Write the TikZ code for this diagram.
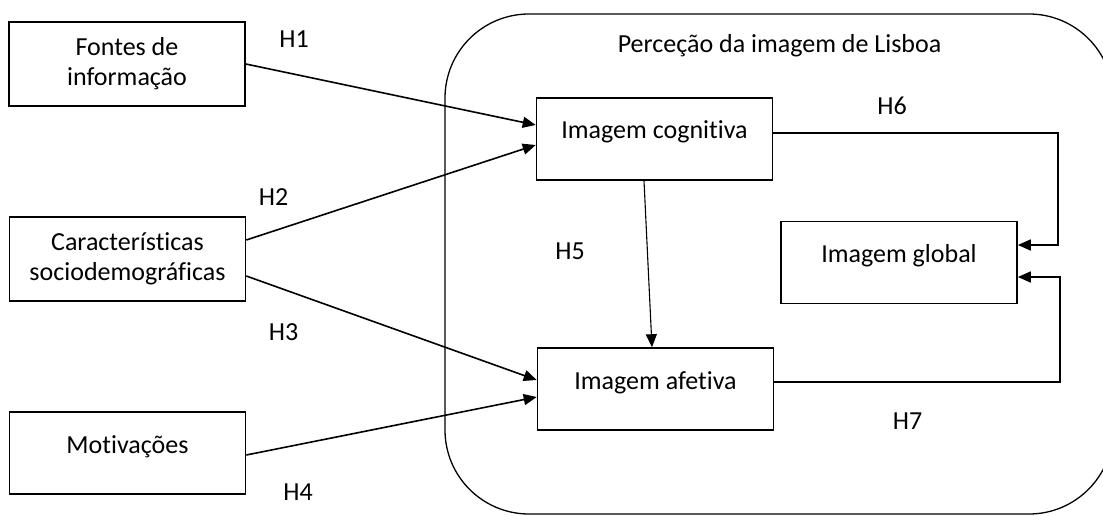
\documentclass[tikz,border=0pt]{standalone}
\usepackage{fontspec}
\setmainfont{Carlito}[Ligatures=NoCommon]
\usetikzlibrary{arrows.meta}
\tikzset{
  box/.style={draw, line width=1.6pt, inner sep=0pt, minimum width=236pt, align=center},
  onebox/.style={box, text height=41pt, text depth=41pt},
  lbl/.style={anchor=base, inner sep=0pt},
  arr/.style={line width=1.6pt, -{Triangle[length=13pt,width=11pt]}},
}
\begin{document}
\begin{tikzpicture}[x=1pt,y=-1pt, font=\fontsize{26}{30}\selectfont]
\useasboundingbox (0,0) rectangle (1103,516);
% frame
\node[draw, line width=1.3pt, rounded corners=84pt, minimum width=668pt, minimum height=500pt, inner sep=0pt] (frame) at (779,264) {};
\node[lbl] (title) at (779.5,53) {Perceção da imagem de Lisboa};
% left boxes
\node[box, minimum height=84pt] (fon) at (127,64) {Fontes de\\informação};
\node[box, minimum height=84pt] (car) at (127.5,259) {Características\\sociodemográficas};
\node[onebox] (mot) at (127.5,453) {Motivações};
% inner boxes
\node[onebox] (cog) at (654.5,139) {Imagem cognitiva};
\node[onebox] (glo) at (899,262.5) {Imagem global};
\node[onebox] (afe) at (655.5,389) {Imagem afetiva};
% connectors
\draw[arr] (fon.east) -- ([yshift=14pt]cog.west);
\draw[arr] ([yshift=19pt]car.east) -- ([yshift=-6pt]cog.west);
\draw[arr] ([yshift=-17pt]car.east) -- ([yshift=9pt]afe.west);
\draw[arr] ([yshift=-2pt]mot.east) -- ([yshift=-8pt]afe.west);
\draw[arr, line width=1.1pt] ([xshift=-10.5pt]cog.south) -- ([xshift=-3.5pt]afe.north);
\coordinate (c6) at (1058,133);
\coordinate (c7) at (1060,382);
\draw[arr] ([yshift=6pt]cog.east) -- (c6) |- ([yshift=17.5pt]glo.east);
\draw[arr] ([yshift=7pt]afe.east) -- (c7) |- ([yshift=-14.5pt]glo.east);
% labels
\node[lbl] (h1) at (294,48) {H1};
\node[lbl] (h2) at (273.5,205) {H2};
\node[lbl] (h3) at (283.5,340) {H3};
\node[lbl] (h4) at (298,500) {H4};
\node[lbl] (h5) at (570,259) {H5};
\node[lbl] (h6) at (892,115) {H6};
\node[lbl] (h7) at (907.5,429) {H7};
\end{tikzpicture}
\end{document}
